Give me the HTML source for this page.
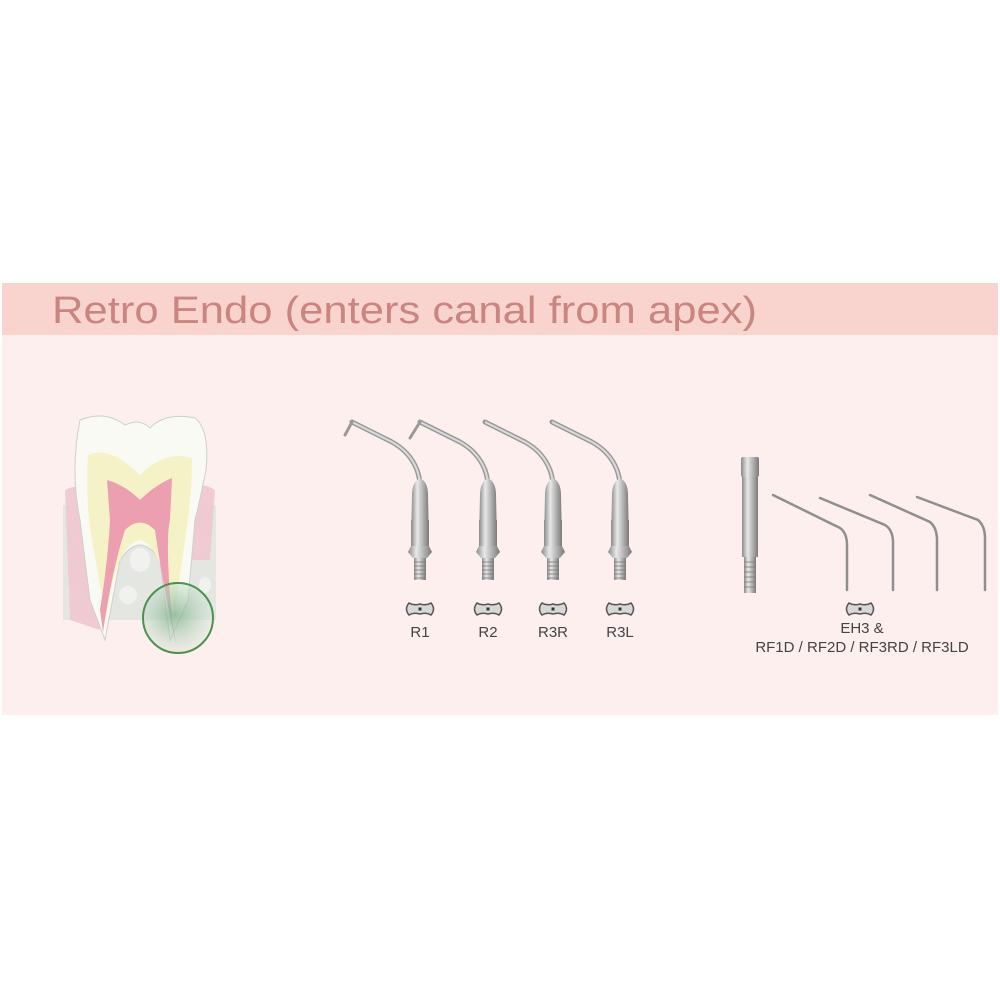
<!DOCTYPE html>
<html><head><meta charset="utf-8"><style>
html,body{margin:0;padding:0;background:#fff;}
svg{display:block}
text{font-family:"Liberation Sans",sans-serif}
</style></head><body>
<svg width="1000" height="1000" viewBox="0 0 1000 1000" xmlns="http://www.w3.org/2000/svg">
<defs>
<linearGradient id="met" x1="0" x2="1" y1="0" y2="0">
<stop offset="0" stop-color="#8a8a8a"/><stop offset="0.35" stop-color="#e8e8e8"/><stop offset="0.6" stop-color="#bdbdbd"/><stop offset="1" stop-color="#7a7a7a"/>
</linearGradient>
<radialGradient id="grn" cx="0.45" cy="0.45" r="0.6">
<stop offset="0" stop-color="#7fb08a" stop-opacity="0.8"/><stop offset="1" stop-color="#d6eadb" stop-opacity="0.3"/>
</radialGradient>
<g id="tip">
<path d="M0,-20 L0,-42 Q0,-52 -3,-60 Q-10,-78 -28,-88 L-68,-108" fill="none" stroke="#9a9a9a" stroke-width="5" stroke-linecap="round"/>
<path d="M0,-20 L0,-42 Q0,-52 -3,-60 Q-10,-78 -28,-88 L-68,-108" fill="none" stroke="#dcdcdc" stroke-width="2"/>
<path d="M-8,-35 Q-8,-48 0,-52 Q8,-48 8,-35 L9,10 L-9,10 Z" fill="url(#met)"/>
<rect x="-9" y="-10" width="18" height="26" fill="url(#met)"/>
<path d="M-9,16 L-12,22 L-7,28 L7,28 L12,22 L9,16 Z" fill="url(#met)"/>
<rect x="-6" y="28" width="12" height="22" fill="url(#met)"/>
<path d="M-6,32 h12 M-6,36 h12 M-6,40 h12 M-6,44 h12 M-6,48 h12" stroke="#777" stroke-width="0.8"/>
</g>
<g id="key">
<path d="M-11,-6 Q-6,-3 0,-5 Q6,-3 11,-6 Q16,0 11,6 Q6,3 0,5 Q-6,3 -11,6 Q-16,0 -11,-6 Z" fill="#d8d8d8" stroke="#555" stroke-width="1.5"/>
<rect x="-1.5" y="-1.5" width="3" height="3" fill="#333"/>
</g>
</defs>
<rect x="2" y="283" width="996" height="52" fill="#f9d3ce"/>
<rect x="2" y="335" width="996" height="380" fill="#fcefee"/>
<text x="52" y="323" font-size="38" fill="#c98680" textLength="705" lengthAdjust="spacingAndGlyphs">Retro Endo (enters canal from apex)</text>

<!-- tooth -->
<rect x="63" y="505" width="153" height="115" fill="#e4e6e2"/>
<g fill="#f3f3f1" opacity="0.9">
<ellipse cx="80" cy="540" rx="8" ry="10"/><ellipse cx="200" cy="545" rx="8" ry="12"/><ellipse cx="75" cy="590" rx="7" ry="9"/><ellipse cx="140" cy="560" rx="10" ry="12"/><ellipse cx="128" cy="595" rx="9" ry="9"/><ellipse cx="205" cy="585" rx="6" ry="8"/>
</g>
<path d="M65,490 Q80,482 95,492 L100,630 L70,620 Z" fill="#f0c6d0" opacity="0.9"/>
<path d="M215,490 Q200,480 188,492 L182,560 L210,560 Z" fill="#f0c6d0" opacity="0.9"/>
<path d="M80,420 Q105,410 125,425 Q140,418 150,428 Q165,412 195,418 Q210,430 206,470 Q200,500 195,520 L188,600 L170,640 L160,560 Q140,530 120,560 L105,640 L90,600 L80,520 Q70,470 80,420 Z" fill="#fafaf5" stroke="#cfcfcf" stroke-width="1"/>
<path d="M88,455 Q110,445 140,475 Q165,450 192,458 Q192,500 185,540 L175,610 Q160,545 140,540 Q115,545 106,620 L92,540 Q85,500 88,455 Z" fill="#f6f2c8"/>
<path d="M107,480 Q125,485 140,500 Q155,485 172,478 L170,520 Q165,540 172,620 L176,645 Q162,580 155,530 Q140,515 125,530 Q112,570 103,632 L100,610 Q108,560 110,520 Z" fill="#ec9fb0"/>
<circle cx="178" cy="618" r="35" fill="url(#grn)" stroke="#4f8f4f" stroke-width="2"/>

<!-- R tips -->
<use href="#tip" x="420" y="530"/>
<use href="#tip" x="488" y="530"/>
<use href="#tip" x="553" y="530"/>
<use href="#tip" x="620" y="530"/>
<path d="M352,422 L345,435" stroke="#9a9a9a" stroke-width="3" stroke-linecap="round"/>
<path d="M420,422 L410,438" stroke="#9a9a9a" stroke-width="3" stroke-linecap="round"/>
<use href="#key" x="420" y="609"/><use href="#key" x="488" y="609"/><use href="#key" x="553" y="609"/><use href="#key" x="620" y="609"/>
<g font-size="15" fill="#444" text-anchor="middle">
<text x="420" y="637">R1</text><text x="488" y="637">R2</text><text x="553" y="637">R3R</text><text x="620" y="637">R3L</text>
</g>

<!-- EH3 -->
<rect x="741" y="457" width="18" height="20" rx="2" fill="url(#met)"/>
<rect x="742" y="477" width="16" height="80" fill="url(#met)"/>
<rect x="744" y="557" width="12" height="36" fill="url(#met)"/>
<path d="M744,562 h12 M744,567 h12 M744,572 h12 M744,577 h12 M744,582 h12 M744,587 h12" stroke="#777" stroke-width="0.8"/>
<g fill="none" stroke="#8f8f8f" stroke-width="2.5" stroke-linecap="round">
<path d="M773,495 L840,528 Q847,533 847,545 L847,590"/>
<path d="M820,498 L885,525 Q893,530 893,542 L893,590"/>
<path d="M870,495 L930,522 Q937,528 937,540 L937,590"/>
<path d="M917,497 L978,520 Q985,526 985,538 L985,590"/>
</g>
<use href="#key" x="860" y="609"/>
<g font-size="15" fill="#444" text-anchor="middle">
<text x="862" y="633">EH3 &amp;</text>
<text x="862" y="652">RF1D / RF2D / RF3RD / RF3LD</text>
</g>
</svg>
</body></html>
